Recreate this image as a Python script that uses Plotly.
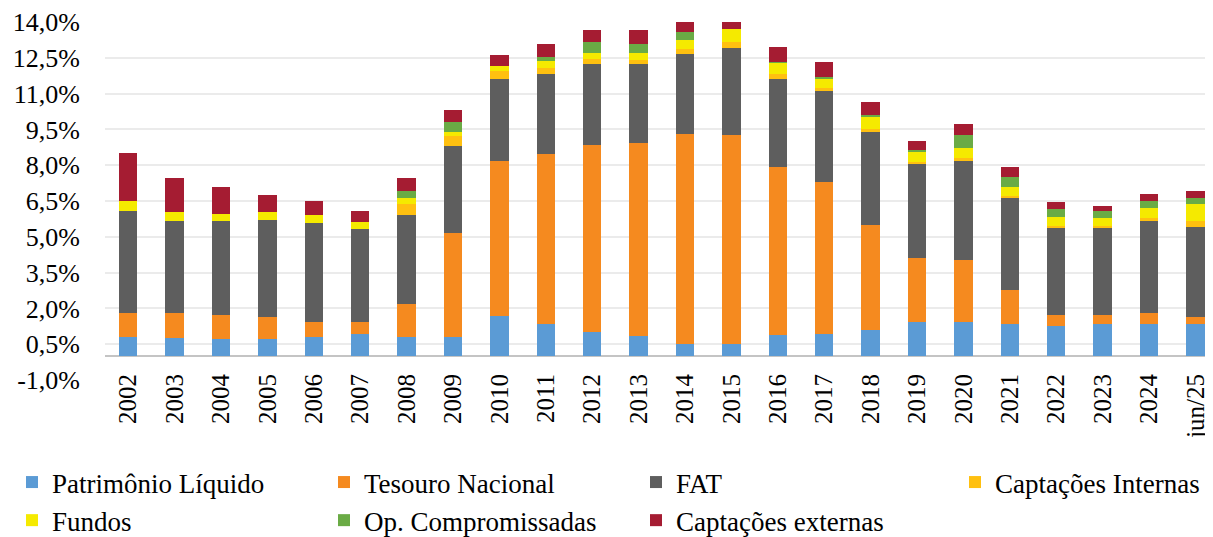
import plotly.graph_objects as go

categories = ['2002', '2003', '2004', '2005', '2006', '2007', '2008', '2009', '2010', '2011', '2012',
              '2013', '2014', '2015', '2016', '2017', '2018', '2019', '2020', '2021', '2022', '2023',
              '2024', 'jun/25']

patrimonio_liquido = [0.79, 0.74, 0.72, 0.72, 0.79, 0.91, 0.79, 0.79, 1.67, 1.36, 1.02, 0.83, 0.50, 0.50,
                      0.87, 0.91, 1.11, 1.42, 1.44, 1.36, 1.28, 1.36, 1.33, 1.33]
tesouro_nacional = [1.03, 1.06, 1.02, 0.91, 0.63, 0.51, 1.40, 4.37, 6.51, 7.11, 7.83, 8.08, 8.81, 8.78,
                    7.04, 6.38, 4.40, 2.69, 2.59, 1.43, 0.46, 0.38, 0.49, 0.32]
fat = [4.28, 3.85, 3.91, 4.08, 4.15, 3.91, 3.74, 3.66, 3.45, 3.37, 3.37, 3.31, 3.37, 3.64,
       3.69, 3.80, 3.89, 3.95, 4.15, 3.86, 3.67, 3.67, 3.83, 3.78]
captacoes_internas = [0, 0, 0, 0, 0, 0, 0.44, 0.42, 0.31, 0.25, 0.21, 0.18, 0.17, 0.24,
                      0.24, 0.14, 0.12, 0.07, 0.11, 0.05, 0.06, 0.03, 0.13, 0.22]
fundos = [0.38, 0.38, 0.32, 0.32, 0.35, 0.29, 0.26, 0.16, 0.21, 0.27, 0.28, 0.31, 0.38, 0.53,
          0.47, 0.41, 0.48, 0.43, 0.43, 0.37, 0.36, 0.34, 0.41, 0.73]
op_compromissadas = [0, 0, 0, 0, 0, 0, 0.30, 0.42, 0, 0.16, 0.45, 0.35, 0.37, 0,
                     0.02, 0.07, 0.10, 0.08, 0.56, 0.45, 0.33, 0.31, 0.29, 0.24]
captacoes_externas = [2.05, 1.45, 1.10, 0.74, 0.56, 0.45, 0.55, 0.49, 0.47, 0.54, 0.49, 0.59, 0.42, 0.36,
                      0.61, 0.60, 0.53, 0.38, 0.44, 0.40, 0.31, 0.18, 0.31, 0.29]

y_tick_values = [-1.0, 0.5, 2.0, 3.5, 5.0, 6.5, 8.0, 9.5, 11.0, 12.5, 14.0]
y_tick_labels = ['-1,0%', '0,5%', '2,0%', '3,5%', '5,0%', '6,5%', '8,0%', '9,5%', '11,0%', '12,5%', '14,0%']

series = [
    ('Patrimônio Líquido', patrimonio_liquido, '#5B9BD5', 'legend'),
    ('Tesouro Nacional', tesouro_nacional, '#F58A1F', 'legend'),
    ('FAT', fat, '#5E5E5E', 'legend'),
    ('Captações Internas', captacoes_internas, '#FFC010', 'legend2'),
    ('Fundos', fundos, '#F5EA00', 'legend'),
    ('Op. Compromissadas', op_compromissadas, '#6AAB45', 'legend'),
    ('Captações externas', captacoes_externas, '#A51C32', 'legend'),
]

FONT = 'Liberation Serif'
W, H = 1205, 529  # page body has an 8px margin

fig = go.Figure()
for name, vals, color, leg in series:
    fig.add_trace(go.Bar(
        x=categories, y=vals, name=name, marker=dict(color=color, line=dict(width=0)),
        width=0.4, legend=leg,
    ))

fig.update_layout(
    barmode='stack',
    width=W, height=H,
    margin=dict(l=97, r=0, t=14, b=157),
    paper_bgcolor='white', plot_bgcolor='white',
    font=dict(family=FONT, size=26, color='black'),
    legend=dict(
        orientation='h', xref='container', yref='container',
        x=4 / W, y=1 - 450 / H, xanchor='left', yanchor='top',
        entrywidth=267, entrywidthmode='pixels',
        font=dict(family=FONT, size=27, color='black'),
        traceorder='normal', bgcolor='rgba(0,0,0,0)',
    ),
    legend2=dict(
        orientation='h', xref='container', yref='container',
        x=947 / W, y=1 - 450 / H, xanchor='left', yanchor='top',
        font=dict(family=FONT, size=27, color='black'),
        bgcolor='rgba(0,0,0,0)',
    ),
)

fig.update_xaxes(
    type='category', range=[-0.5, -0.5 + (W - 97) / 46.4],
    showgrid=False, showline=False, ticks='',
    tickangle=-90, tickfont=dict(family=FONT, size=25, color='black'),
    ticklabelstandoff=-12,
)
fig.update_yaxes(
    range=[-1, 14], tickmode='array', tickvals=y_tick_values, ticktext=y_tick_labels,
    showgrid=True, gridcolor='#EBEBEB', gridwidth=1.5,
    zeroline=True, zerolinecolor='#C4C4C4', zerolinewidth=2,
    showline=False, ticks='',
    tickfont=dict(family=FONT, size=26, color='black'),
    ticklabelstandoff=24,
)

fig.write_html('out.html')
